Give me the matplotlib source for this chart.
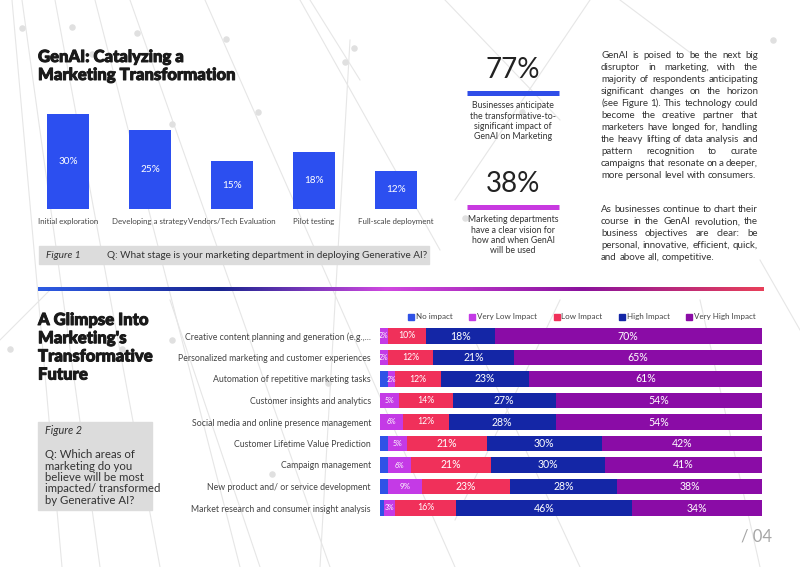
import numpy as np
import matplotlib
matplotlib.use('Agg')
import matplotlib.pyplot as plt
import matplotlib.patheffects as pe
from matplotlib.colors import LinearSegmentedColormap
from matplotlib.lines import Line2D

plt.rcParams['font.family'] = ['Lato', 'DejaVu Sans']

# Figure 1 data
stages = ['Initial exploration', 'Developing a strategy', 'Vendors/Tech Evaluation',
          'Pilot testing', 'Full-scale deployment']
stage_pct = [30, 25, 15, 18, 12]

# Figure 2 data
areas = ['Creative content planning and generation (e.g.,...',
         'Personalized marketing and customer experiences',
         'Automation of repetitive marketing tasks',
         'Customer insights and analytics',
         'Social media and online presence management',
         'Customer Lifetime Value Prediction',
         'Campaign management',
         'New product and/ or service development',
         'Market research and consumer insight analysis']
impact_levels = ['No impact', 'Very Low Impact', 'Low Impact', 'High Impact', 'Very High Impact']
no_impact = [0, 0, 2, 0, 0, 2, 2, 2, 1]
very_low = [2, 2, 2, 5, 6, 5, 6, 9, 3]
low = [10, 12, 12, 14, 12, 21, 21, 23, 16]
high = [18, 21, 23, 27, 28, 30, 30, 28, 46]
very_high = [70, 65, 61, 54, 54, 42, 41, 38, 34]

# key stats
stat_values = ['77%', '38%']
stat_captions = [['Businesses anticipate', 'the transformative-to-', 'significant impact of', 'GenAI on Marketing'],
                 ['Marketing departments', 'have a clear vision for', 'how and when GenAI', 'will be used']]

para1 = ['GenAI is poised to be the next big',
         'disruptor in marketing, with the',
         'majority of respondents anticipating',
         'significant changes on the horizon',
         '(see Figure 1). This technology could',
         'become the creative partner that',
         'marketers have longed for, handling',
         'the heavy lifting of data analysis and',
         'pattern recognition to curate',
         'campaigns that resonate on a deeper,',
         'more personal level with consumers.']
para2 = ['As businesses continue to chart their',
         'course in the GenAI revolution, the',
         'business objectives are clear: be',
         'personal, innovative, efficient, quick,',
         'and above all, competitive.']

W, H = 800, 567
fig = plt.figure(figsize=(8, 5.67), dpi=100)
fig.patch.set_facecolor('white')

# page-level axes in pixel coordinates (y down)
bg = fig.add_axes([0, 0, 1, 1], zorder=0)
bg.set_xlim(0, W)
bg.set_ylim(H, 0)
bg.axis('off')

def px_axes(x0, y0, x1, y1):
    return fig.add_axes([x0 / W, 1 - y1 / H, (x1 - x0) / W, (y1 - y0) / H], zorder=2)

heavy = [pe.withStroke(linewidth=0.7, foreground='#1a1a1a')]

# faint network pattern in the background
net = [((12, 0), (62, 567)), ((22, 0), (100, 567)), ((55, 0), (160, 567)),
       ((95, 0), (240, 567)), ((130, 0), (330, 567)), ((205, 0), (455, 567)),
       ((300, 0), (440, 250)), ((590, 0), (455, 200)), ((445, 0), (560, 120)),
       ((310, 0), (360, 80)), ((620, 0), (700, 60)), ((350, 40), (320, 567)),
       ((560, 300), (455, 520)), ((470, 330), (580, 567)), ((760, 260), (800, 330)),
       ((0, 340), (50, 290)), ((170, 300), (260, 567)), ((700, 300), (760, 567))]
for (xa, ya), (xb, yb) in net:
    bg.plot([xa, xb], [ya, yb], color='#e6e6e6', lw=0.8, zorder=0)
dots = [(22, 28), (72, 27), (137, 33), (226, 39), (354, 48), (92, 54), (345, 62),
        (172, 124), (258, 112), (522, 112), (465, 218), (172, 340), (122, 349),
        (10, 349), (328, 383), (272, 474), (773, 40)]
bg.scatter([d[0] for d in dots], [d[1] for d in dots], s=22, color='#e0e0e0', zorder=0, lw=0)

# ---------- Figure 1 ----------
bg.text(38, 57, 'GenAI: Catalyzing a', fontsize=12, fontweight='black', color='#1a1a1a',
        va='center', path_effects=heavy)
bg.text(38, 75, 'Marketing Transformation', fontsize=12, fontweight='black', color='#1a1a1a',
        va='center', path_effects=heavy)

ax1 = px_axes(27, 98, 437, 209)
ax1.patch.set_alpha(0)
x1 = np.arange(len(stages))
bars = ax1.bar(x1, stage_pct, width=0.51, color='#2c4ff0')
for b, v in zip(bars, stage_pct):
    ax1.text(b.get_x() + b.get_width() / 2, v / 2, f'{v}%', ha='center', va='center',
             color='white', fontsize=7.2)
ax1.set_xlim(-0.5, len(stages) - 0.5)
ax1.set_ylim(0, 35)
ax1.set_xticks(x1)
ax1.set_xticklabels(stages, fontsize=5.7, color='#444444')
ax1.tick_params(axis='x', length=0, pad=6.5)
ax1.set_yticks([])
for s in ax1.spines.values():
    s.set_visible(False)

bg.add_patch(plt.Rectangle((39, 246), 390, 18, color='#dcdcdc', zorder=1))
bg.text(46, 255, 'Figure 1', fontsize=7.3, style='italic', color='#333333', va='center', zorder=2)
bg.text(107, 255, 'Q: What stage is your marketing department in deploying Generative AI?',
        fontsize=7.2, color='#333333', va='center', zorder=2)

# ---------- key stats ----------
stat_y = [70, 184]
bar_y = [93, 207]
bar_col = ['#2f4de8', '#c83ae0']
cap_y = [106, 220]
for i in range(2):
    bg.text(513, stat_y[i], stat_values[i], fontsize=20, fontweight='normal', color='#222222',
            ha='center', va='center')
    bg.plot([467, 559], [bar_y[i], bar_y[i]], color=bar_col[i], lw=3.6, solid_capstyle='butt')
    for j, line in enumerate(stat_captions[i]):
        bg.text(513, cap_y[i] + j * 10.3, line, fontsize=6.3, color='#333333', ha='center', va='center')

# ---------- justified paragraph ----------
renderer = fig.canvas.get_renderer()
def justify(lines, x0, x1, y0, dy, size):
    space = size * 0.35
    for i, line in enumerate(lines):
        words = line.split()
        y = y0 + i * dy
        ts = [bg.text(0, y, w, fontsize=size, color='#333333', va='center') for w in words]
        ws = [t.get_window_extent(renderer).width for t in ts]
        if i == len(lines) - 1:
            gap = space
        else:
            gap = (x1 - x0 - sum(ws)) / (len(words) - 1)
        x = x0
        for t, w in zip(ts, ws):
            t.set_x(x)
            x += w + gap

justify(para1, 601, 758, 55, 12.1, 7)
justify(para2, 601, 758, 210, 11.8, 7)

# gradient divider
grad = LinearSegmentedColormap.from_list('div', [(0, '#2d5be3'), (0.25, '#1a2590'), (0.48, '#d048e0'),
                                                 (0.75, '#8a129c'), (1, '#e8405a')])
bg.imshow(np.linspace(0, 1, 256).reshape(1, -1), cmap=grad, aspect='auto',
          extent=(38, 764, 290.7, 287.5), zorder=1)
bg.set_xlim(0, W)
bg.set_ylim(H, 0)

# ---------- Figure 2 ----------
for j, line in enumerate(['A Glimpse Into', "Marketing's", 'Transformative', 'Future']):
    bg.text(38, 320 + j * 18.2, line, fontsize=12, fontweight='black', color='#1a1a1a',
            va='center', path_effects=heavy)

bg.add_patch(plt.Rectangle((38, 422), 114, 88, color='#dcdcdc', zorder=1))
bg.text(45, 431, 'Figure 2', fontsize=7.8, style='italic', color='#333333', va='center', zorder=2)
for j, line in enumerate(['Q: Which areas of', 'marketing do you', 'believe will be most',
                          'impacted/ transformed', 'by Generative AI?']):
    bg.text(45, 455 + j * 11.3, line, fontsize=8.2, color='#333333', va='center', zorder=2)

ax2 = px_axes(380, 325.25, 762, 518.75)
ax2.patch.set_alpha(0)
series = [no_impact, very_low, low, high, very_high]
colors = ['#2f52e6', '#c43ae6', '#f0305a', '#1426a6', '#8a0ca6']
y2 = np.arange(len(areas))
left = np.zeros(len(areas))
for k, (vals, col) in enumerate(zip(series, colors)):
    vals = np.array(vals, dtype=float)
    ax2.barh(y2, vals, left=left, height=0.7, color=col)
    if k > 0:
        for yy, l, v in zip(y2, left, vals):
            fs = 5 if v < 8 else (5.8 if v < 10 else (6.3 if v < 17 else 7.6))
            ax2.text(l + v / 2, yy, f'{int(v)}%', ha='center', va='center', color='white', fontsize=fs)
    left += vals
ax2.set_xlim(0, 100)
ax2.set_ylim(len(areas) - 0.5, -0.5)
ax2.set_yticks(y2)
ax2.set_yticklabels(areas, fontsize=6.3, color='#444444')
ax2.tick_params(axis='y', length=0, pad=6.5)
ax2.set_xticks([])
for s in ax2.spines.values():
    s.set_visible(False)

handles = [Line2D([], [], marker='s', ls='', color=c, markersize=4) for c in colors]
ax2.legend(handles, impact_levels, ncol=5, frameon=False, fontsize=5.8, loc='center left',
           bbox_to_anchor=(405 / W, 1 - 317 / H), bbox_transform=fig.transFigure,
           handlelength=0.6, handletextpad=0.3, columnspacing=2.1, borderpad=0, labelcolor='#444444')

bg.text(772, 536, '/ 04', fontsize=12, fontweight='normal', color='#a6a6a6', ha='right', va='center')

fig.savefig('out.png', dpi=100, facecolor='white')
